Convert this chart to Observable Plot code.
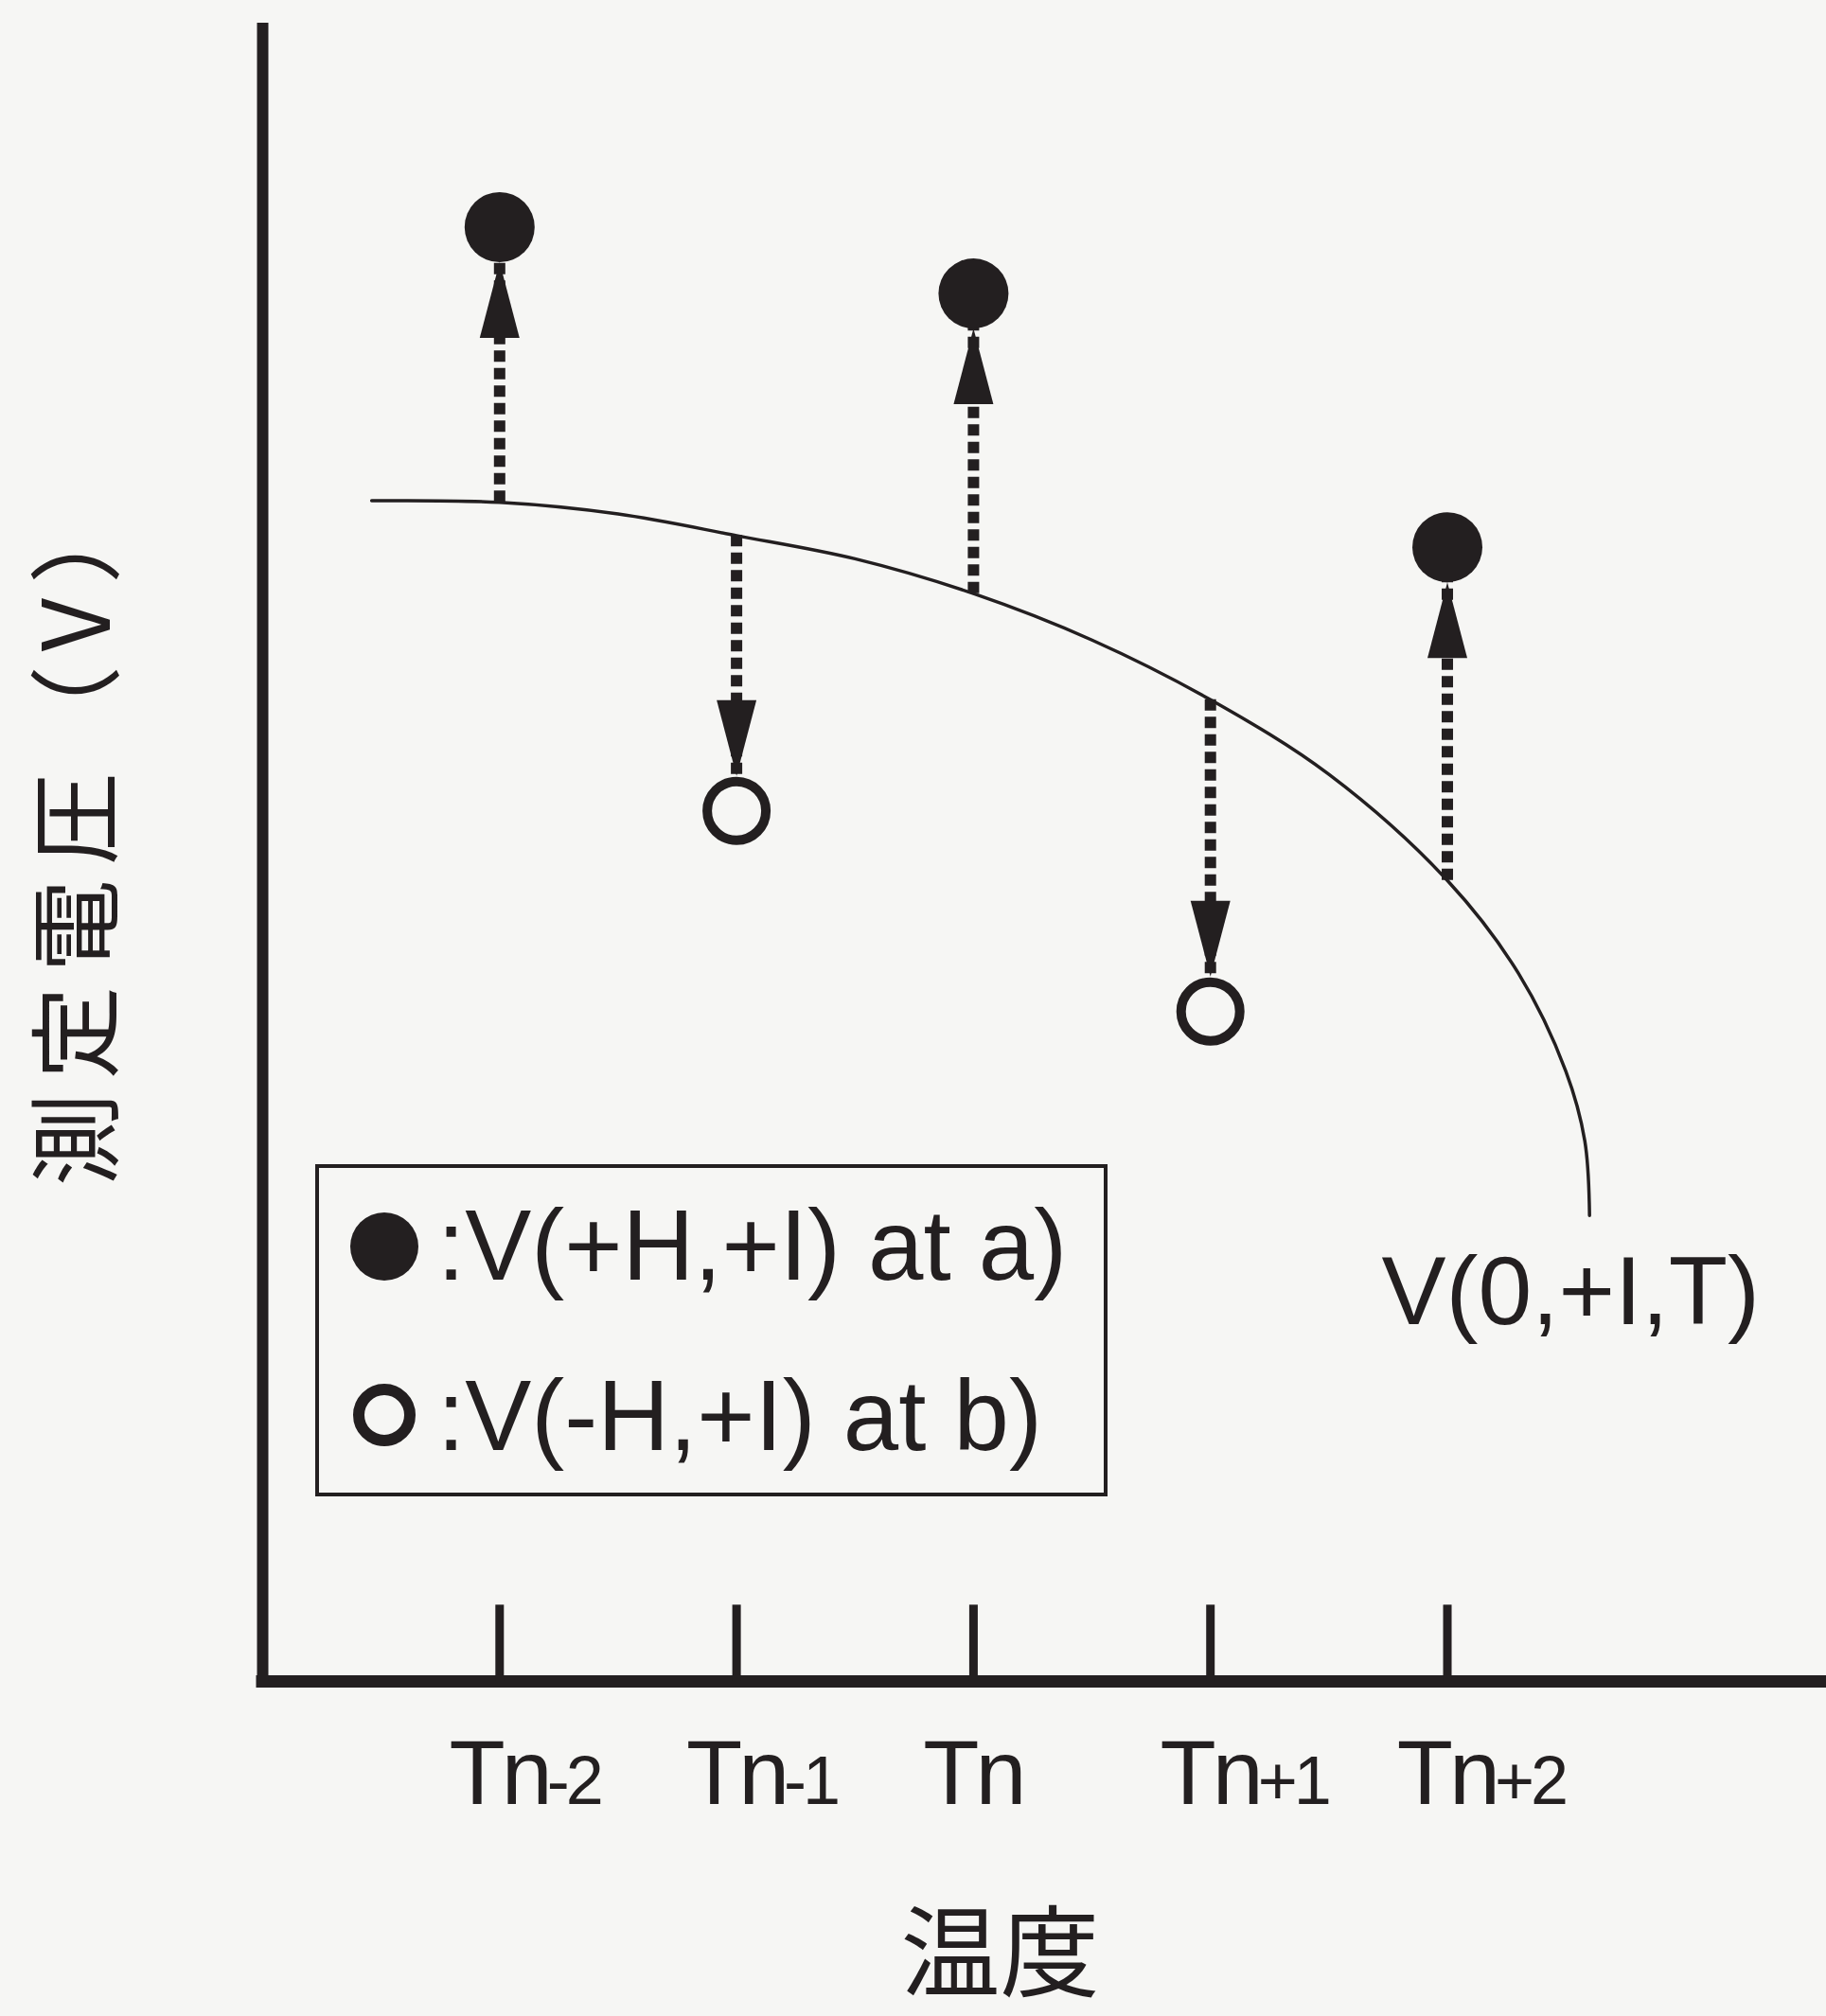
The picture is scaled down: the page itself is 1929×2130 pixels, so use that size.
<!DOCTYPE html>
<html><head><meta charset="utf-8">
<script src="https://cdn.jsdelivr.net/npm/d3@7"></script>
<script src="https://cdn.jsdelivr.net/npm/@observablehq/plot@0.6"></script>
<style>
html,body{margin:0;padding:0;background:#f6f6f4;}
#wrap{position:relative;width:1929px;height:2130px;overflow:hidden;background:#f6f6f4;}
#legend{position:absolute;left:0;top:0;pointer-events:none;}
/* condensed look for the tick labels, spaced-out vertical axis title */
#wrap g[font-size="97"] text, #wrap g[font-size="72"] text { letter-spacing: -4px; }
#wrap g[font-size="98"] text { letter-spacing: 15px; }
</style></head><body><div id="wrap"></div>
<script>
// ---- data ----
const tickPos = [0, 1, 2, 3, 4];
const tickLabels = ["Tn-2", "Tn-1", "Tn", "Tn+1", "Tn+2"];
const baseV = [71.1, 69.1, 65.6, 59.2, 48.3];          // V(0,+I,T) at each Tn
const measuredV = [87.7, 52.5, 83.7, 40.4, 68.4];      // measured voltage
const state = ["a", "b", "a", "b", "a"];               // a: +H (filled), b: -H (open)
const curveT = [-0.54, 0, 0.5, 1, 1.5, 2, 2.5, 3, 3.5, 4, 4.3, 4.5, 4.58, 4.6];
const curveV = [71.2, 71.1, 70.4, 69.1, 67.7, 65.6, 62.8, 59.2, 54.7, 48.3, 42.7, 36.8, 32.6, 28.1];
const curveLabel = "V(0,+I,T)";
const legendLabels = [":V(+H,+I) at a)", ":V(-H,+I) at b)"];
const xTitle = "温度";
const yTitle = "測定電圧（V）";

// ---- style ----
const ink = "#231f20";
const bg = "#f6f6f4";
const latin = "Liberation Sans, Arial, Helvetica, sans-serif";
const cjk = "Noto Sans CJK JP, sans-serif";

const pts = tickPos.map((t, i) => ({t, base: baseV[i], v: measuredV[i], s: state[i]}));
const curve = curveT.map((t, i) => ({t, v: curveV[i]}));
const ticks = tickPos.map((t, i) => ({t, main: tickLabels[i].slice(0, 2), sub: tickLabels[i].slice(2)}));

const upHead = {draw(ctx) { ctx.moveTo(0, 0); ctx.lineTo(21, 80); ctx.lineTo(-21, 80); ctx.closePath(); }};
const downHead = {draw(ctx) { ctx.moveTo(0, 0); ctx.lineTo(21, -80); ctx.lineTo(-21, -80); ctx.closePath(); }};

const chart = Plot.plot({
  width: 1929, height: 2130,
  marginLeft: 277, marginRight: 0, marginTop: 24, marginBottom: 354,
  style: {background: bg, overflow: "visible"},
  x: {domain: [-1, 5.6], axis: null},
  y: {domain: [0, 100], axis: null},
  marks: [
    // axes
    Plot.ruleY([0], {stroke: ink, strokeWidth: 13, strokeLinecap: "square"}),
    Plot.ruleX([-1], {y1: 0, y2: 100, stroke: ink, strokeWidth: 12}),
    Plot.ruleX(ticks, {x: "t", y1: 0, y2: 4.6, stroke: ink, strokeWidth: 9}),
    // reference curve
    Plot.line(curve, {x: "t", y: "v", curve: "catmull-rom", stroke: ink, strokeWidth: 3.5}),
    // dashed arrows
    Plot.ruleX(pts, {x: "t", y1: "base", y2: "v", stroke: ink, strokeWidth: 12, strokeDasharray: "12,6.5"}),
    Plot.dot(pts.filter(d => d.s === "a"), {x: "t", y: "v", symbol: upHead, dy: 37, fill: ink, stroke: "none"}),
    Plot.dot(pts.filter(d => d.s === "b"), {x: "t", y: "v", symbol: downHead, dy: -37, fill: ink, stroke: "none"}),
    // points
    Plot.dot(pts.filter(d => d.s === "a"), {x: "t", y: "v", r: 37, fill: ink, stroke: "none"}),
    Plot.dot(pts.filter(d => d.s === "b"), {x: "t", y: "v", r: 31, fill: bg, stroke: ink, strokeWidth: 10}),
    // tick labels
    Plot.text(ticks, {x: "t", y: 0, text: "main", textAnchor: "end", lineAnchor: "bottom", dx: 52, dy: 129,
      fontSize: 97, fontFamily: latin, fill: ink}),
    Plot.text(ticks, {x: "t", y: 0, text: "sub", textAnchor: "start", lineAnchor: "bottom", dx: 50, dy: 129,
      fontSize: 72, fontFamily: latin, fill: ink}),
    // curve label
    Plot.text([curve[curve.length - 1]], {x: "t", y: "v", text: () => curveLabel, textAnchor: "middle", lineAnchor: "bottom",
      dx: -20, dy: 115, fontSize: 102, fontFamily: latin, fill: ink}),
    // axis titles
    Plot.text([xTitle], {frameAnchor: "bottom", text: d => d, textAnchor: "middle", dx: -47, dy: 324, fontSize: 105, fontFamily: cjk, fill: ink}),
    Plot.text([yTitle], {frameAnchor: "left", text: d => d, textAnchor: "middle", rotate: -90, dx: -193, dy: -22, fontSize: 98, fontFamily: cjk, fill: ink})
  ]
});

const wrap = document.getElementById("wrap");
wrap.appendChild(chart);

// ---- legend (overlay) ----
const lg = d3.select(wrap).append("svg").attr("id", "legend").attr("width", 1929).attr("height", 2130);
lg.append("rect").attr("x", 335).attr("y", 1232).attr("width", 833).attr("height", 347)
  .attr("fill", "none").attr("stroke", ink).attr("stroke-width", 4);
const rows = [{label: legendLabels[0], filled: true, cy: 1317, base: 1352}, {label: legendLabels[1], filled: false, cy: 1495, base: 1532}];
rows.forEach(r => {
  if (r.filled) lg.append("circle").attr("cx", 406).attr("cy", r.cy).attr("r", 36).attr("fill", ink);
  else lg.append("circle").attr("cx", 406).attr("cy", r.cy).attr("r", 27).attr("fill", "none").attr("stroke", ink).attr("stroke-width", 12);
  lg.append("text").attr("x", 462).attr("y", r.base).attr("font-family", latin).attr("font-size", 105)
    .attr("fill", ink).text(r.label);
});
</script>
</body></html>
